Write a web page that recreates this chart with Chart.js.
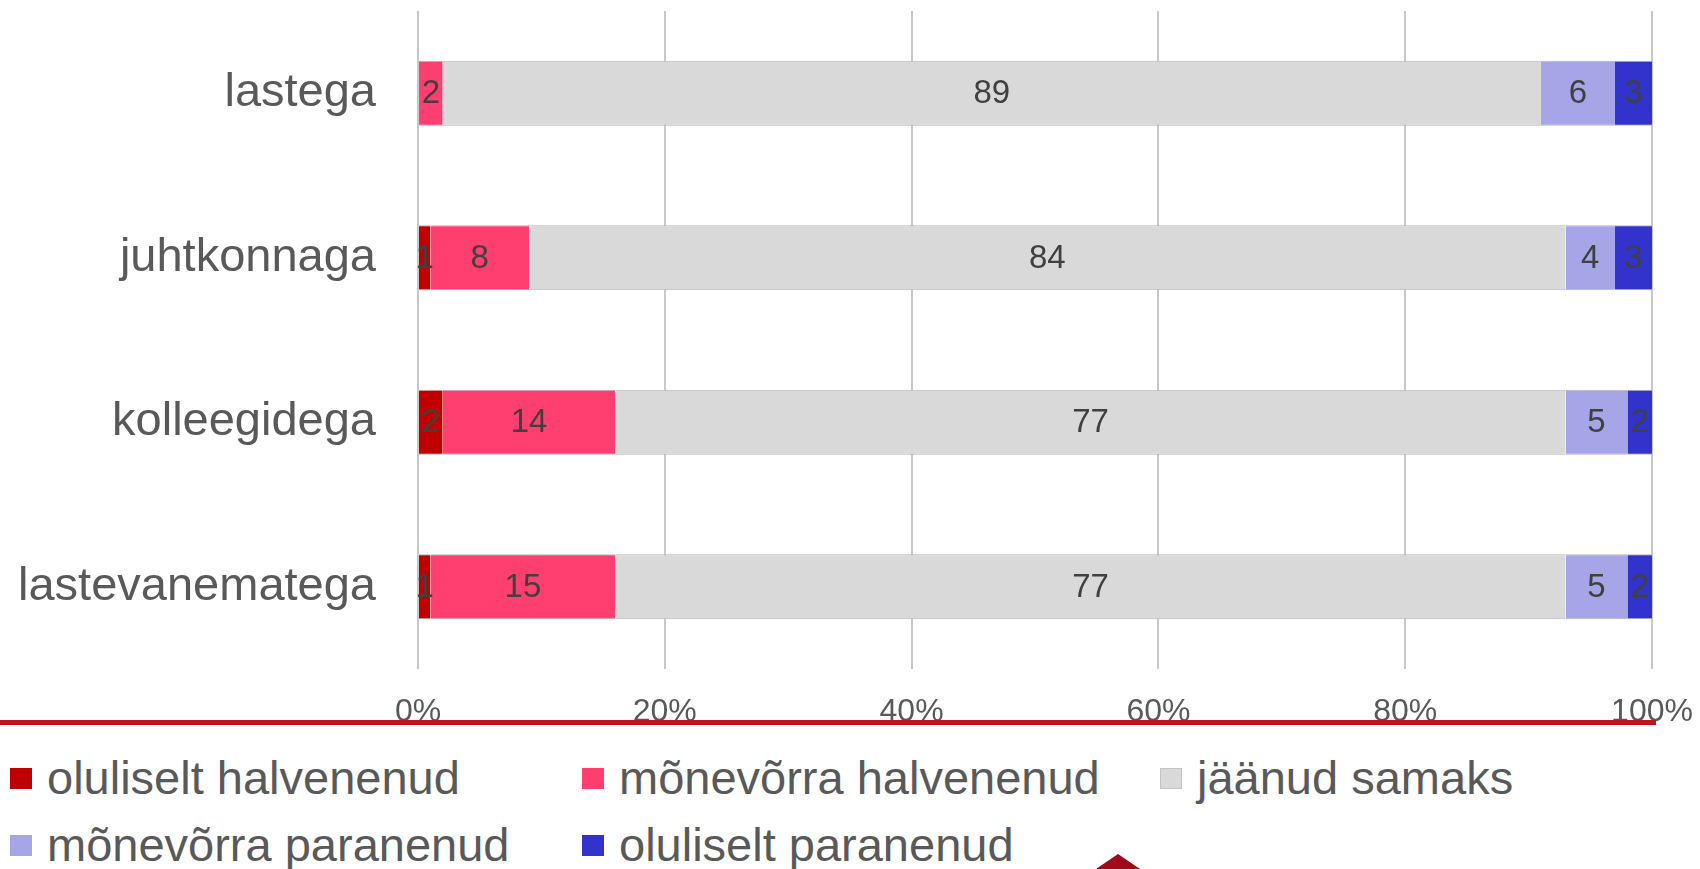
<!DOCTYPE html>
<html lang="et">
<head>
  <meta charset="UTF-8" />
  <title>Suhted</title>
  <script src="https://cdn.jsdelivr.net/npm/chart.js"></script>
  <style>
    body { margin: 0; background: #fff; width: 1700px; height: 869px; overflow: hidden; position: relative; font-family: "Liberation Sans", Arial, sans-serif; }
    #chart { position: absolute; left: 0; top: 0; }
    .legend-item { position: absolute; height: 47px; font-size: 47px; line-height: 47px; color: #595959; white-space: nowrap; }
    .legend-item .box { position: absolute; left: 0; top: 14px; width: 22px; height: 21px; box-sizing: border-box; }
    .legend-item span.txt { position: absolute; left: 37px; top: 0; }
    .logo { position: absolute; left: 1096px; top: 854px; width: 44px; height: 15px; background: #9e0b1b; clip-path: polygon(50% 0, 100% 100%, 0 100%); }
  </style>
</head>
<body>
  <canvas id="chart" width="1700" height="745"></canvas>
  <div id="legend"></div>
  <div class="logo"></div>

  <script>
    const categories = ["lastega", "juhtkonnaga", "kolleegidega", "lastevanematega"];
    const seriesNames = ["oluliselt halvenenud", "mõnevõrra halvenenud", "jäänud samaks", "mõnevõrra paranenud", "oluliselt paranenud"];
    const olulHalv = [0, 1, 2, 1];
    const monHalv = [2, 8, 14, 15];
    const samaks = [89, 84, 77, 77];
    const monPar = [6, 4, 5, 5];
    const olulPar = [3, 3, 2, 2];
    const xTicks = [0, 20, 40, 60, 80, 100];

    const colors = ["#c00000", "#fe3f6f", "#d9d9d9", "#a5a5e8", "#3232cc"];
    const seriesValues = [olulHalv, monHalv, samaks, monPar, olulPar];

    const font = "'Liberation Sans', Arial, sans-serif";

    // value labels in the middle of each segment
    const barLabels = {
      id: "barLabels",
      afterDatasetsDraw(chart) {
        const ctx = chart.ctx;
        ctx.save();
        ctx.font = "33px " + font;
        ctx.fillStyle = "#404040";
        ctx.textAlign = "center";
        ctx.textBaseline = "middle";
        chart.data.datasets.forEach((ds, i) => {
          chart.getDatasetMeta(i).data.forEach((el, j) => {
            const v = ds.data[j];
            if (!v) return;
            ctx.fillText(String(v), (el.x + el.base) / 2, el.y + 1);
          });
        });
        ctx.restore();
      }
    };

    // red rule of the slide, drawn over the axis labels
    const redRule = {
      id: "redRule",
      afterDraw(chart) {
        const ctx = chart.ctx;
        ctx.save();
        ctx.fillStyle = "#c0141c";
        ctx.fillRect(0, 720, 1656, 5);
        ctx.restore();
      }
    };

    new Chart(document.getElementById("chart"), {
      type: "bar",
      data: {
        labels: categories,
        datasets: seriesNames.map((name, i) => ({
          label: name,
          data: seriesValues[i],
          backgroundColor: colors[i],
          borderColor: "#b5b5b5",
          borderWidth: { top: 1, bottom: 1, left: 0, right: 0 },
          borderSkipped: false,
          barPercentage: 0.66,
          categoryPercentage: 0.6
        }))
      },
      options: {
        indexAxis: "y",
        responsive: false,
        animation: false,
        layout: { padding: { top: 11, right: 48, left: 0, bottom: 0 } },
        plugins: {
          legend: { display: false },
          tooltip: { enabled: false }
        },
        scales: {
          x: {
            stacked: true,
            min: 0,
            max: 100,
            afterBuildTicks(scale) {
              scale.ticks = xTicks.map(v => ({ value: v }));
            },
            afterFit(scale) {
              scale.height = 76;
              scale.paddingLeft = 0;
              scale.paddingRight = 0;
            },
            grid: { color: "#c8c8c8", lineWidth: 2, drawTicks: false },
            border: { display: false },
            ticks: {
              padding: 24,
              color: "#595959",
              font: { family: font, size: 32 },
              callback: v => v + "%"
            }
          },
          y: {
            stacked: true,
            afterFit(scale) {
              scale.width = 418;
              scale.paddingTop = 0;
              scale.paddingBottom = 0;
            },
            grid: { display: false, drawTicks: false },
            border: { display: false },
            ticks: {
              padding: 42,
              color: "#595959",
              font: { family: font, size: 47 }
            }
          }
        }
      },
      plugins: [barLabels, redRule]
    });

    // legend in a three-column grid, like the slide
    const legendPos = [[10, 754], [582, 754], [1160, 754], [10, 821], [582, 821]];
    const legend = document.getElementById("legend");
    seriesNames.forEach((name, i) => {
      const item = document.createElement("div");
      item.className = "legend-item";
      item.style.left = legendPos[i][0] + "px";
      item.style.top = legendPos[i][1] + "px";
      const box = document.createElement("div");
      box.className = "box";
      box.style.background = colors[i];
      if (i === 2) box.style.border = "1px solid #c4c4c4";
      const txt = document.createElement("span");
      txt.className = "txt";
      txt.textContent = name;
      item.appendChild(box);
      item.appendChild(txt);
      legend.appendChild(item);
    });
  </script>
</body>
</html>
